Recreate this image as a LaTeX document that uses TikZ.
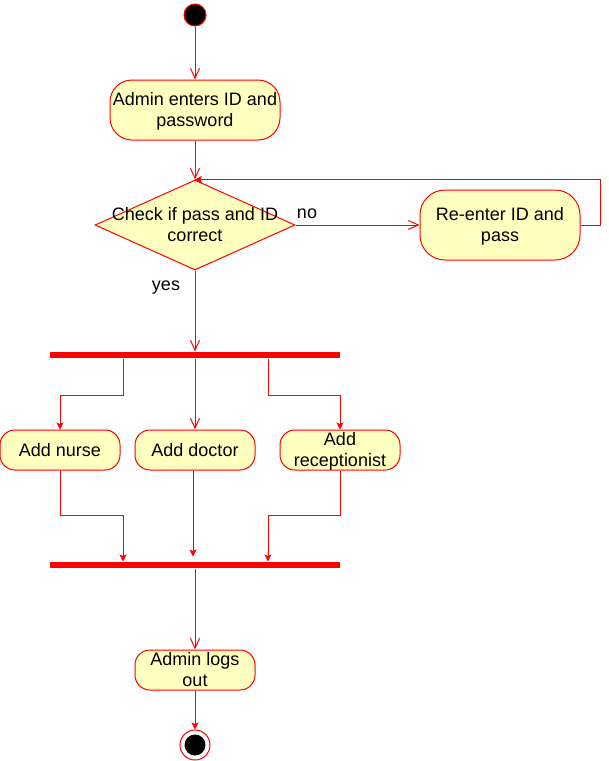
\documentclass[tikz,border=0pt]{standalone}
\usepackage{fontspec}
\setmainfont{Liberation Sans}
\usetikzlibrary{arrows.meta,shapes.geometric}
\definecolor{actfill}{HTML}{FFFFC0}
\definecolor{actline}{HTML}{FF0000}
\begin{document}
\begin{tikzpicture}[x=1pt, y=-1pt, line width=1pt,
        font=\fontsize{18}{21}\selectfont,
        action/.style={draw=actline, fill=actfill, rectangle, align=center, inner sep=0pt, text depth=1pt},
        decision/.style={draw=actline, fill=actfill, diamond, inner sep=0pt, minimum width=200pt, minimum height=90pt},
        bar/.style={fill=actline, rectangle, inner sep=0pt, minimum width=290pt, minimum height=6pt},
        open/.style={draw=actline, -{Straight Barb[length=10pt,width=9pt]}},
        filled/.style={draw=actline, -{Stealth[length=7pt,width=7pt,inset=1.5pt]}}]
        \useasboundingbox (0,0) rectangle (609,761);
        % nodes
        \node[circle, draw=actline, fill=black, minimum size=22pt, inner sep=0pt] (start) at (195,15) {};
        \node[action, minimum width=170pt, minimum height=60pt, rounded corners=22pt] (admin) at (195,110) {Admin enters ID and\\password};
        \node[decision] (check) at (195,225) {};
        \node[align=center, inner sep=0pt] (checktext) at (195,225) {Check if pass and ID\\correct};
        \node[action, minimum width=160pt, minimum height=70pt, rounded corners=25pt] (reenter) at (500,225) {Re-enter ID and\\pass};
        \node[inner sep=0pt] (no) at (307,214) {no};
        \node[inner sep=0pt] (yes) at (166,288) {yes};
        \node[bar] (fork) at (195,355) {};
        \node[action, minimum width=120pt, minimum height=40pt, rounded corners=15pt] (nurse) at (60,450) {Add nurse};
        \node[action, minimum width=120pt, minimum height=40pt, rounded corners=15pt] (doctor) at (195,450) {Add doctor};
        \node[action, minimum width=120pt, minimum height=40pt, rounded corners=15pt] (recep) at (340,450) {Add\\receptionist};
        \node[bar] (join) at (195,565) {};
        \node[action, minimum width=120pt, minimum height=40pt, rounded corners=15pt] (logout) at (195,670) {Admin logs\\out};
        \node[circle, draw=actline, fill=white, minimum size=30pt, inner sep=0pt] (end) at (195,745) {};
        \node[circle, fill=black, minimum size=21pt, inner sep=0pt] (endin) at (end) {};
        % connectors
        \draw[open] (start) -- (admin);
        \draw[open] (admin) -- (check);
        \draw[open] (check) -- (reenter);
        \draw[filled] (reenter.east) -- ++(20,0) |- (check.north);
        \draw[open] (check) -- (fork);
        \draw[filled] ([xshift=-72pt]fork.south) -- ++(0,37) -| (nurse.north);
        \draw[open] (fork) -- (doctor);
        \draw[filled] ([xshift=73pt]fork.south) -- ++(0,37) -| (recep.north);
        \draw[filled] (nurse.south) -- ++(0,45) -| ([xshift=-72pt]join.north);
        \draw[filled] ([xshift=-2pt]doctor.south) -- ([xshift=-2pt,yshift=5pt]join.north);
        \draw[filled] (recep.south) -- ++(0,45) -| ([xshift=73pt]join.north);
        \draw[open] (join) -- (logout);
        \draw[filled] (logout) -- (end);
    \end{tikzpicture}
\end{document}
